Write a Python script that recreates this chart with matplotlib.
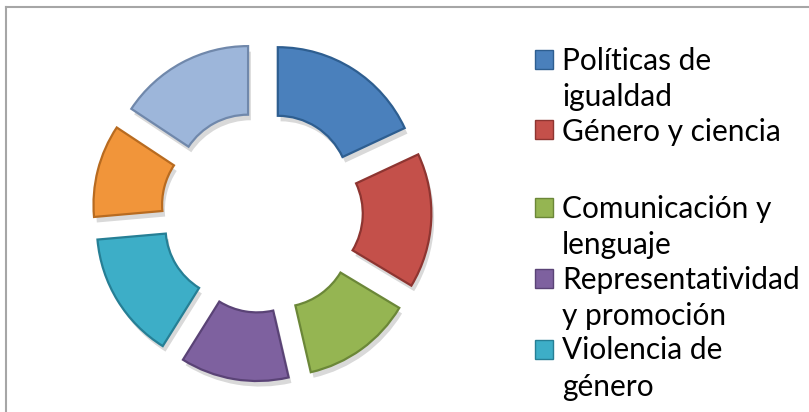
import matplotlib
matplotlib.use("Agg")
import matplotlib.pyplot as plt
from matplotlib.patches import Rectangle
from matplotlib.legend_handler import HandlerPatch
import matplotlib.patheffects as pe

plt.rcParams['font.family'] = ['Lato', 'DejaVu Sans']

categories = ["Políticas de\nigualdad", "Género y ciencia\n", "Comunicación y\nlenguaje",
              "Representatividad\ny promoción", "Violencia de\ngénero", "", ""]
values = [65, 56, 46, 45, 53, 38.5, 56.5]
colors = ["#4A80BC", "#C4504A", "#95B552", "#7E619F", "#3DAEC7", "#F1953A", "#9DB6DA"]
edges = ["#2E5E90", "#8E3531", "#6B8738", "#5A4376", "#267F95", "#B86B20", "#7088AB"]
legend_count = 5

W, H = 809, 412
fig = plt.figure(figsize=(W / 100, H / 100), dpi=100)
fig.patch.set_facecolor("white")

# frame border (top and left visible)
fig.add_artist(plt.Line2D([6 / W, 6 / W], [0, (H - 7) / H], color="#A6A6A6", lw=1.5))
fig.add_artist(plt.Line2D([6 / W, 1], [(H - 7) / H, (H - 7) / H], color="#A6A6A6", lw=1.5))

cx, cy, half = 262, 200, 180
R = 140.0
ax = fig.add_axes([(cx - half) / W, (cy - half) / H, 2 * half / W, 2 * half / H])
ax.set_aspect("equal")

wedges, _ = ax.pie(values, colors=colors, startangle=90, counterclock=False,
                   explode=[0.21] * len(values), radius=1.0,
                   wedgeprops=dict(width=0.49, linewidth=1.6))
for w, ec in zip(wedges, edges):
    w.set_edgecolor(ec)
    w.set_path_effects([pe.SimplePatchShadow(offset=(2, -4), shadow_rgbFace="#000000", alpha=0.15),
                        pe.Normal()])
lim = half / R
ax.set_xlim(-lim, lim)
ax.set_ylim(-lim, lim)
ax.axis("off")

fs = 21.5
ls = 1.36
ls_wide = 1.62
entry_ls = [ls, ls_wide, ls, ls, ls]

handles = [Rectangle((0, 0), 1, 1, facecolor=c, edgecolor=e, lw=1)
           for c, e in zip(colors[:legend_count], edges[:legend_count])]
shift_map = {id(h): 0.5 * l * fs for h, l in zip(handles, entry_ls)}


def top_square(legend, orig_handle, xdescent, ydescent, width, height, fontsize):
    return Rectangle((-xdescent, -ydescent + shift_map[id(orig_handle)]), width, height)


leg = fig.legend(handles, categories[:legend_count], loc="upper left",
                 bbox_to_anchor=(535 / W, (H - 47) / H), frameon=False,
                 fontsize=fs, handlelength=0.6, handleheight=0.6,
                 handletextpad=0.3, labelspacing=0.22, borderpad=0, borderaxespad=0,
                 handler_map={Rectangle: HandlerPatch(patch_func=top_square)})
for t, l in zip(leg.get_texts(), entry_ls):
    t.set_linespacing(l)

fig.savefig("out.png", dpi=100, facecolor="white")
